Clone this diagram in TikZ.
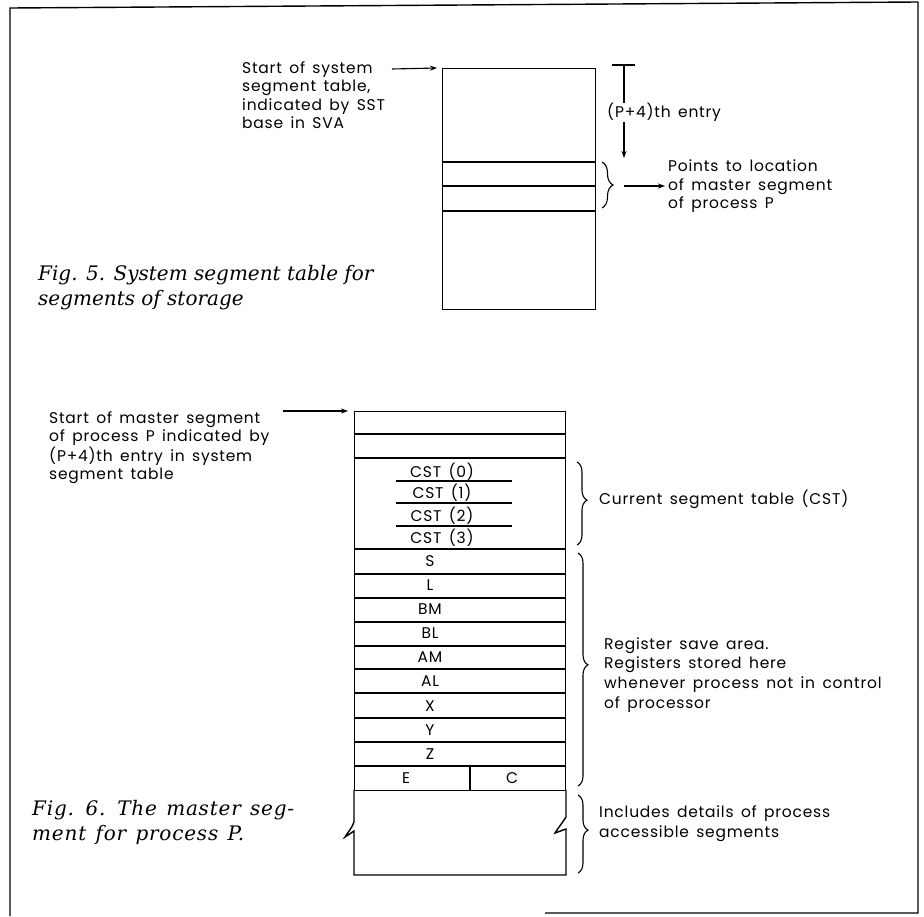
\documentclass[tikz,border=0pt]{standalone}
\usepackage{fontspec}
\newfontfamily\labfont{Poppins}[WordSpace=1.5,LetterSpace=5]
\newfontfamily\capfont{DejaVu Serif}
\newfontfamily\capwfont{DejaVu Serif}[LetterSpace=4,WordSpace=1.3]
\usetikzlibrary{arrows.meta,decorations.pathreplacing}
\tikzset{
  lab/.style={font=\labfont\fontsize{15.5}{18.5}\selectfont, inner sep=0pt},
  blk/.style={lab, align=left, anchor=north west},
  capt/.style={font=\capfont\itshape\fontsize{20}{25}\selectfont, inner sep=0pt, align=left, anchor=north west},
  ln/.style={line width=1.4pt},
  arr/.style={line width=1.1pt, -{Stealth[length=7pt,width=5pt]}},
  brc/.style={decorate, decoration={brace, amplitude=#1}, line width=1.1pt},
  brc/.default=11pt,
  box/.style={draw, line width=1.4pt, inner sep=0pt, anchor=north west},
}
\begin{document}
\begin{tikzpicture}[x=1pt,y=-1pt]
\useasboundingbox (0,0) rectangle (924,916);
% frame
\draw[ln] (10,916) -- (10,8) -- (918,2) -- (918,913) -- (545,913);

% ===== Fig. 5 =====
\node[box, minimum width=153pt, minimum height=241pt] (sst) at (442,68) {};
\foreach \yy in {162,186,211} \draw[ln] (sst.west |- 0,\yy) -- (sst.east |- 0,\yy);
\node[blk] (t5a) at (242,61) {Start of system\\segment table,\\indicated by SST\\base in SVA};
\coordinate (a5s) at (392,69);
\draw[arr] (a5s) -- ([xshift=-5pt]sst.north west);
% (P+4)th entry dimension
\coordinate (dtl) at (612,65);
\coordinate (dtr) at (635,65);
\coordinate (dtop) at (624,65);
\node[lab, anchor=west] (pent) at (607,112) {(P+4)th entry};
\coordinate (dbot) at (624,158);
\draw[ln] (dtl) -- (dtr);
\draw[line width=1.1pt] (dtop) -- (624,103);
\draw[arr] (624,122) -- (dbot);
% brace and pointer
\draw[brc=11pt] (602,162) -- (602,208);
\node[blk] (t5b) at (668,160) {Points to location\\of master segment\\of process P};
\coordinate (a5b) at (624,186);
\draw[arr] (a5b) -- (665,186);
\node[capt] (cap5) at (38,265) {Fig. 5. System segment table for\\segments of storage};

% ===== Fig. 6 =====
\node[box, minimum width=211pt, minimum height=379pt] (ms) at (354,411) {};
\foreach \yy in {434,458,549,574,598,622,646,669,693,718,742,766}
  \draw[ln] (ms.west |- 0,\yy) -- (ms.east |- 0,\yy);
% CST sub lines
\foreach \yy in {481,503,526} \draw[line width=1.1pt] (396,\yy) -- (512,\yy);
\node[lab] (c0) at (442,472) {CST (0)};
\node[lab] (c1) at (442,493) {CST (1)};
\node[lab] (c2) at (442,516) {CST (2)};
\node[lab] (c3) at (442,538) {CST (3)};
\foreach \t [count=\i] in {S,L,BM,BL,AM,AL,X,Y,Z}
  \node[lab] (r\i) at ({430},{549+24.1*\i-12.05}) {\t};
\draw[ln] (470,766) -- (470,790);
\node[lab] (re) at (406,778) {E};
\node[lab] (rc) at (512,778) {C};
% bottom broken part
\draw[ln] (354,790) -- (354,822) .. controls (352,828) and (348,832) .. (345,837) -- (354,831) -- (354,875)
  -- (566,875) -- (566,829) -- (555,833) .. controls (558,828) and (563,822) .. (566,817) -- (566,790);
\node[blk] (t6a) at (49,411) {Start of master segment\\of process P indicated by\\(P+4)th entry in system\\segment table};
\coordinate (a6s) at (283,411);
\draw[arr] (a6s) -- ([xshift=-6pt]ms.north west);
% braces
\draw[brc=10pt, decoration={aspect=0.46}] (577,462) -- (577,545);
\node[lab, anchor=west] (cst) at (599,499) {Current segment table (CST)};
\draw[brc=10pt, decoration={aspect=0.48}] (578,553) -- (578,786);
\node[blk, font=\labfont\fontsize{15.5}{19.7}\selectfont] (rsa) at (604,637) {Register save area.\\Registers stored here\\whenever process not in control\\of processor};
\draw[brc=10pt, decoration={aspect=0.45}] (578,795) -- (578,873);
\node[blk, font=\labfont\fontsize{15.5}{20}\selectfont] (inc) at (599,805) {Includes details of process\\accessible segments};
\node[capt, font=\capwfont\itshape\fontsize{20}{25}\selectfont] (cap6) at (32,800) {Fig. 6. The master seg-\\ment for process P.};
\end{tikzpicture}
\end{document}
